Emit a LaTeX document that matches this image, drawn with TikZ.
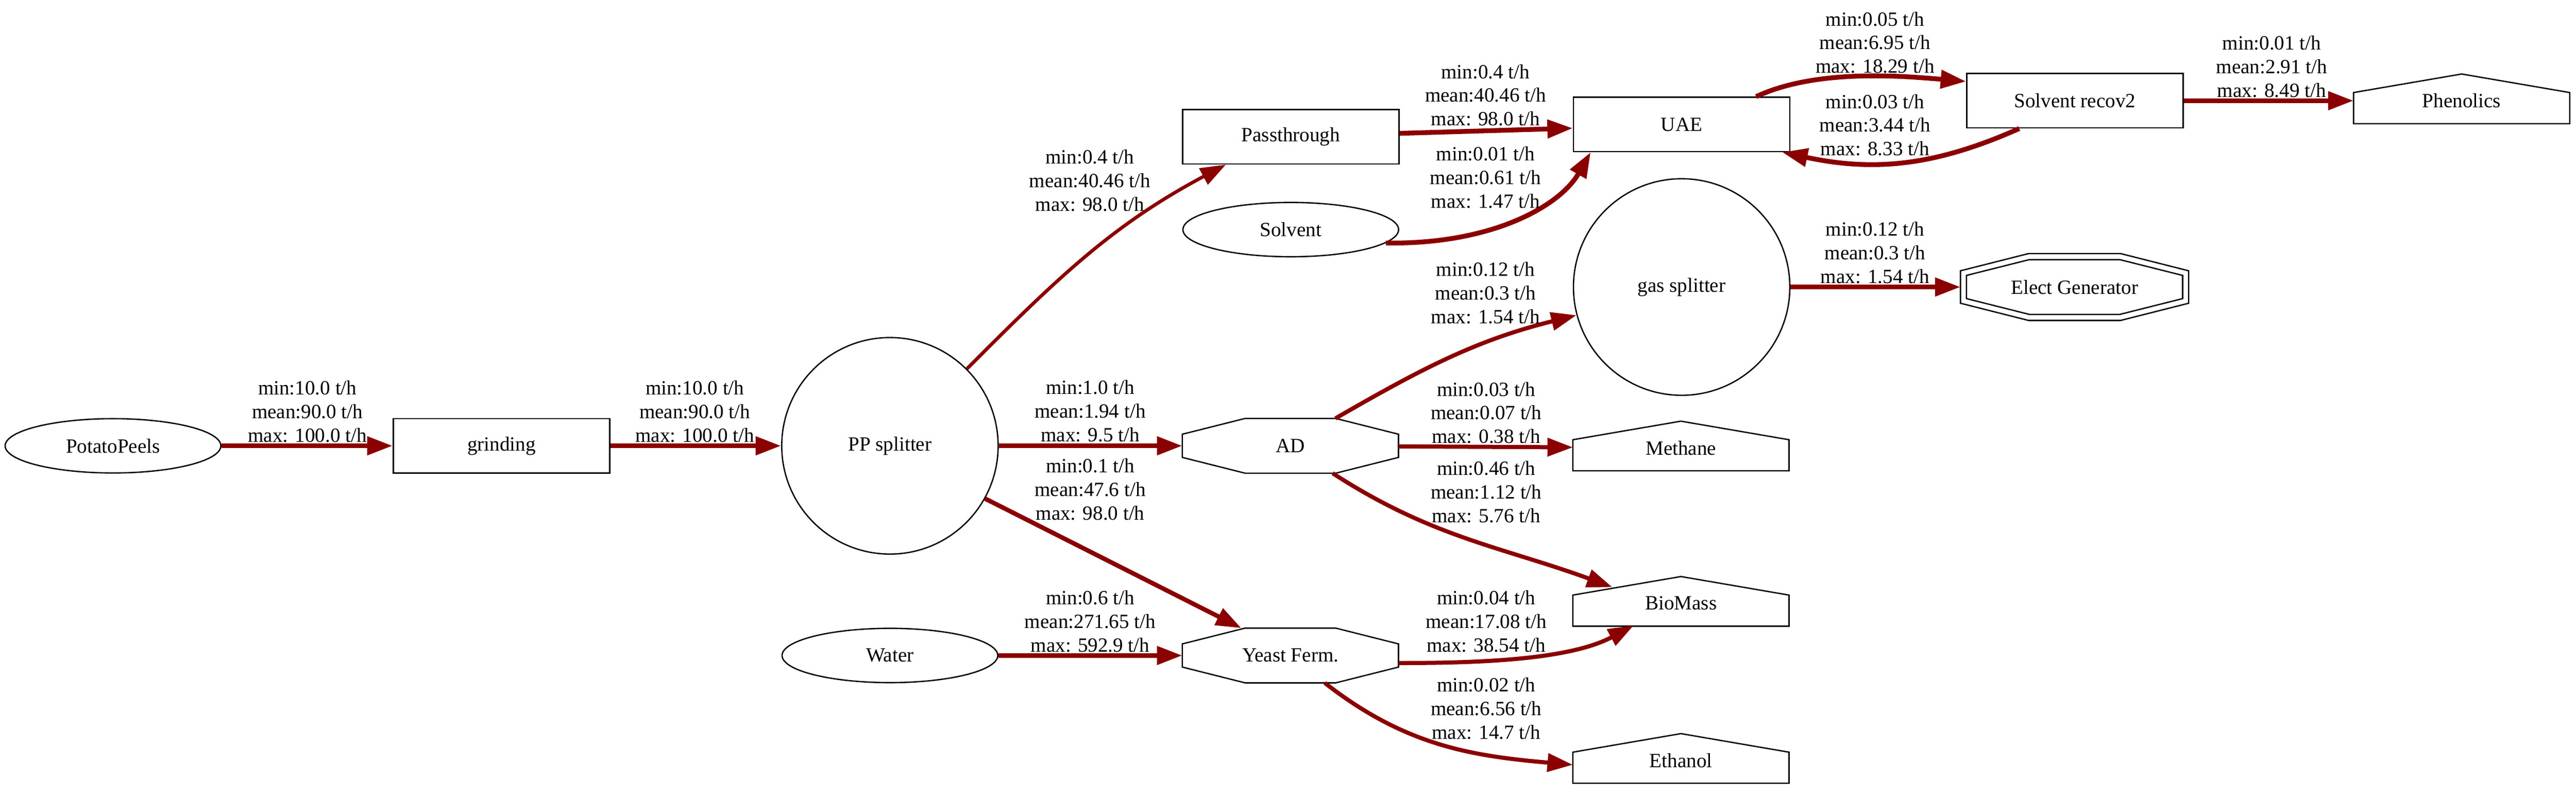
\documentclass[tikz,border=0pt]{standalone}
\usepackage{fontspec}
\setmainfont{Liberation Serif}
\usetikzlibrary{arrows.meta, calc, shapes.geometric}

\definecolor{flowred}{RGB}{139,0,0}

\tikzset{
  outline/.style={draw=black, line width=1.1pt},
  unit/.style={outline, rectangle, minimum width=6.3cm, minimum height=1.58cm},
  feed/.style={outline, ellipse, minimum width=6.28cm, minimum height=1.58cm},
  splitter/.style={outline, circle, minimum size=6.3cm},
  reactor/.style={rectangle, minimum width=6.28cm, minimum height=1.58cm},
  product/.style={rectangle, minimum width=6.28cm, minimum height=1.58cm},
  generator/.style={rectangle, minimum width=6.63cm, minimum height=1.93cm},
  flow/.style={draw=flowred, line width=1.4mm, -{Triangle[length=7.4mm, width=5.2mm]}},
  rate/.style={align=center, inner sep=0pt}
}

\newcommand{\flowrate}[3]{min:#1 t/h\\mean:#2 t/h\\max: #3 t/h}

% node, inset, cut x, cut y
\newcommand{\drawocta}[4]{%
  \draw[outline] ($(#1.north west)+(#2+#3,-#2)$) -- ($(#1.north east)+(-#2-#3,-#2)$)
    -- ($(#1.north east)+(-#2,-#2-#4)$) -- ($(#1.south east)+(-#2,#2+#4)$)
    -- ($(#1.south east)+(-#2-#3,#2)$) -- ($(#1.south west)+(#2+#3,#2)$)
    -- ($(#1.south west)+(#2,#2+#4)$) -- ($(#1.north west)+(#2,-#2-#4)$) -- cycle;}

\newcommand{\drawhouse}[1]{%
  \draw[outline] ($(#1.south west)+(0,0.13)$) -- ($(#1.north west)+(0,-0.56)$)
    -- ($(#1.north)+(0,-0.02)$) -- ($(#1.north east)+(0,-0.56)$)
    -- ($(#1.south east)+(0,0.13)$) -- cycle;}

\begin{document}
\begin{tikzpicture}[node distance=11.31cm, font=\fontsize{16.7}{19.6}\selectfont]
  \useasboundingbox (0,0) rectangle (75,-23.09);

  \node[feed] (peels) at (3.29,-12.97) {PotatoPeels};
  \node[unit, right of=peels] (grinding) {grinding};
  \node[splitter, right of=grinding] (ppsplit) {PP splitter};
  \node[feed, right of=grinding, yshift=-6.10cm] (water) {Water};
  \node[reactor, right of=ppsplit, xshift=0.35cm] (ad) {AD};
  \node[reactor, right of=water, xshift=0.35cm] (yeast) {Yeast Ferm.};
  \node[unit, right of=ppsplit, xshift=0.36cm, yshift=8.99cm] (pass) {Passthrough};
  \node[feed, right of=ppsplit, xshift=0.36cm, yshift=6.29cm] (solvent) {Solvent};
  \node[unit, right of=pass, xshift=0.07cm, yshift=0.36cm] (uae) {UAE};
  \node[splitter, right of=ad, xshift=0.08cm, yshift=4.62cm] (gas) {gas splitter};
  \node[product, right of=ad, xshift=0.06cm, yshift=-0.06cm] (methane) {Methane};
  \node[product, right of=ad, xshift=0.06cm, yshift=-4.58cm] (biomass) {BioMass};
  \node[product, right of=yeast, xshift=0.06cm, yshift=-3.05cm] (ethanol) {Ethanol};
  \node[unit, right of=uae, xshift=0.14cm, yshift=0.69cm] (recov) {Solvent recov2};
  \node[generator, right of=gas, xshift=0.13cm] (elect) {Elect Generator};
  \node[product, right of=recov, xshift=-0.05cm] (phenolics) {Phenolics};

  \drawocta{ad}{0}{1.83}{0.46}
  \drawocta{yeast}{0}{1.83}{0.46}
  \drawocta{elect}{0}{1.98}{0.50}
  \drawocta{elect}{0.175}{1.83}{0.46}
  \foreach \n in {methane,biomass,ethanol,phenolics} {\drawhouse{\n}}

  \draw[flow] (peels) -- (grinding);
  \draw[flow] (grinding) -- (ppsplit);
  \draw[flow, line width=1mm] (ppsplit.45) to[out=45, in=208] ($(pass.south)+(-1.89,0)$);
  \draw[flow] ([yshift=1mm]pass.east) -- ([yshift=-1.1mm]uae.west);
  \draw[flow] (solvent.-8) .. controls +(3.09,-0.05) and +(-0.89,-1.56) .. ($(uae.south west)+(0.52,0)$);
  \draw[flow] ($(uae.north east)+(-1.0,0)$) to[out=25, in=175, looseness=0.8] ($(recov.west)+(0,0.56)$);
  \draw[flow] ($(recov.south)+(-1.62,0)$) to[out=204, in=-12] ($(uae.south east)+(-0.24,0)$);
  \draw[flow] (recov) -- (phenolics);
  \draw[flow] (gas) -- (elect);
  \draw[flow] (ppsplit) -- (ad);
  \draw[flow, line width=1.2mm] ($(ad.north)+(1.31,0)$) to[out=30, in=194] (gas.195);
  \draw[flow, line width=1.2mm] (ad) -- (methane);
  \draw[flow, line width=1.2mm] ($(ad.south)+(1.23,0)$) to[out=-33, in=160] ($(biomass.center)+(-2.0,0.47)$);
  \draw[flow, line width=1.3mm] (ppsplit.-29) -- ($(yeast.north)+(-1.43,0)$);
  \draw[flow] (water) -- (yeast);
  \draw[flow, line width=1.2mm] ($(yeast.east)+(0,-0.22)$) to[out=0, in=208, looseness=0.8] ($(biomass.center)+(-1.38,-0.65)$);
  \draw[flow, line width=1.2mm] ($(yeast.south)+(1.0,0)$) to[out=-38, in=175] ($(ethanol.west)+(0,-0.13)$);

  \node[rate] (lblpeels) at (8.95,-11.97) {\flowrate{10.0}{90.0}{100.0}};
  \node[rate] (lblgrinding) at (20.23,-11.97) {\flowrate{10.0}{90.0}{100.0}};
  \node[rate] (lblpass) at (31.73,-5.25) {\flowrate{0.4}{40.46}{98.0}};
  \node[rate] (lbluae) at (43.25,-2.77) {\flowrate{0.4}{40.46}{98.0}};
  \node[rate] (lblsolvent) at (43.25,-5.16) {\flowrate{0.01}{0.61}{1.47}};
  \node[rate] (lblrecov) at (54.59,-1.24) {\flowrate{0.05}{6.95}{18.29}};
  \node[rate] (lblreturn) at (54.59,-3.64) {\flowrate{0.03}{3.44}{8.33}};
  \node[rate] (lblphenolics) at (66.14,-1.94) {\flowrate{0.01}{2.91}{8.49}};
  \node[rate] (lblelect) at (54.59,-7.35) {\flowrate{0.12}{0.3}{1.54}};
  \node[rate] (lblgas) at (43.25,-8.52) {\flowrate{0.12}{0.3}{1.54}};
  \node[rate] (lblad) at (31.74,-11.96) {\flowrate{1.0}{1.94}{9.5}};
  \node[rate] (lblmethane) at (43.27,-12.01) {\flowrate{0.03}{0.07}{0.38}};
  \node[rate] (lblbiomass) at (43.27,-14.31) {\flowrate{0.46}{1.12}{5.76}};
  \node[rate] (lblyeast) at (31.74,-14.24) {\flowrate{0.1}{47.6}{98.0}};
  \node[rate] (lblwater) at (31.74,-18.08) {\flowrate{0.6}{271.65}{592.9}};
  \node[rate] (lblferm) at (43.27,-18.08) {\flowrate{0.04}{17.08}{38.54}};
  \node[rate] (lblethanol) at (43.27,-20.61) {\flowrate{0.02}{6.56}{14.7}};
\end{tikzpicture}
\end{document}
